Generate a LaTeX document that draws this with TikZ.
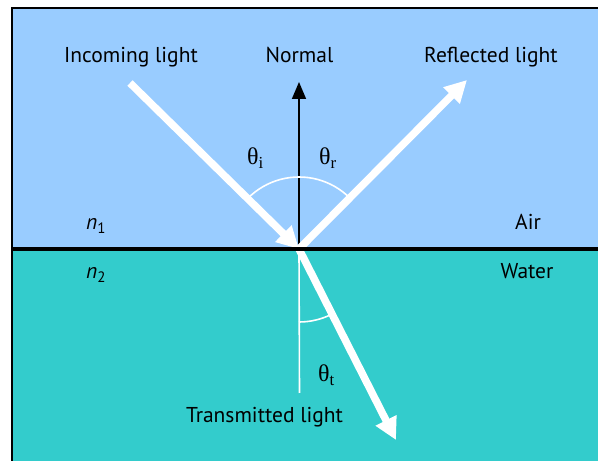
\documentclass[tikz,border=0pt]{standalone}
\usepackage{fontspec}
\setmainfont{PT Sans}
\newfontfamily\greekfont{Liberation Serif}
\usetikzlibrary{positioning,arrows.meta}
\definecolor{aircol}{HTML}{99CCFF}
\definecolor{watercol}{HTML}{33CCCC}
\tikzset{
  lbl/.style={anchor=base,inner sep=0pt,font=\fontsize{21.5}{24}\selectfont},
  ang/.style={anchor=base west,inner sep=0pt,font=\fontsize{24}{27}\greekfont},
  ray/.style={white,line width=7.5pt,-{Triangle[length=22pt,width=22pt]}},
  arcline/.style={white,line width=1.6pt}
}
\begin{document}
\begin{tikzpicture}[x=1pt,y=1pt]
\useasboundingbox (0,0) rectangle (598,461);
% media
\fill[aircol] (11.5,212) rectangle (610,452.5);
\fill[watercol] (11.5,-10) rectangle (610,212);
\draw[line width=2pt] (11.5,-10) -- (11.5,452.5) -- (610,452.5);
\coordinate (O) at (299,212);
\coordinate (in) at (130,378);
\coordinate (re) at (467,381);
\coordinate (tr) at (396,21);
\coordinate (nt) at (299,379);
\coordinate (nb) at (299.5,68);
% normal
\draw[arcline] (O) -- (nb);
\draw[line width=1.6pt,-{Triangle[length=17pt,width=14pt]}] (O) -- (nt);
% angles
\draw[arcline] (O) ++(45:72) arc[start angle=45,end angle=135.5,radius=72];
\draw[arcline] (O) ++(-90:73) arc[start angle=-90,end angle=-63.2,radius=73];
% rays
\draw[ray] (in) -- (O);
\draw[ray] (O) -- (re);
\draw[ray] (O) -- (tr);
\draw[line width=3.5pt] (11.5,212) -- (610,212);
% labels
\node[lbl] (lin) at (131,398.3) {Incoming light};
\node[lbl] (lnorm) at (299.5,398.3) {Normal};
\node[lbl] (lref) at (491,398.3) {Reflected light};
\node[lbl] (ltr) at (264.5,38.3) {Transmitted light};
\node[lbl] (nA) at (96,231) {\textit{n}\textsubscript{1}};
\node[lbl] (nB) at (96,182) {\textit{n}\textsubscript{2}};
\node[lbl] (lair) at (528,231) {Air};
\node[lbl] (lwater) at (527,182) {Water};
\node[ang] (ti) at (247,296) {θ\textsubscript{i}};
\node[ang] (tre) at (319,296) {θ\textsubscript{r}};
\node[ang] (tt) at (318,79.3) {θ\textsubscript{t}};
\end{tikzpicture}
\end{document}
